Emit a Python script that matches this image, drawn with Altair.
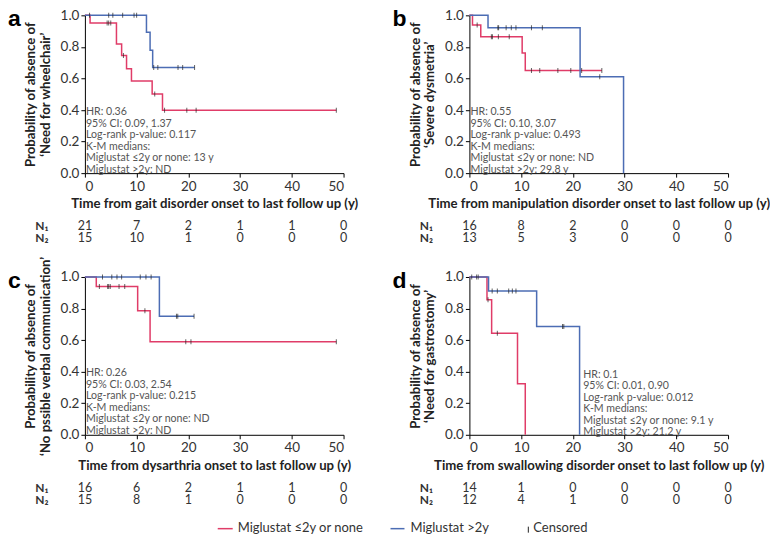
import altair as alt
import pandas as pd

RED = "#E03C68"
BLUE = "#4C6DB4"
TICKC = "#222222"
G1 = "Miglustat ≤2y or none"
G2 = "Miglustat >2y"
FONT = "Lato"

x_ticks = [0, 10, 20, 30, 40, 50]
y_ticks = [0.0, 0.2, 0.4, 0.6, 0.8, 1.0]

# ---- Panel a ----
a_red_t = [0, 1.0, 6.1, 7.1, 8.05, 9.0, 13.0, 15.0, 48.6]
a_red_s = [1.0, 0.952, 0.819, 0.746, 0.662, 0.584, 0.501, 0.398, 0.398]
a_red_c = [4.3, 4.6, 5.0, 7.45, 13.5, 15.4, 19.7, 21.5, 48.6]
a_blue_t = [0, 11.9, 12.6, 13.1, 21.2]
a_blue_s = [1.0, 0.893, 0.779, 0.670, 0.670]
a_blue_c = [0.9, 4.6, 5.4, 7.3, 9.5, 10.0, 13.3, 14.1, 18.0, 18.9, 21.2]
a_n1 = [21, 7, 2, 1, 1, 0]
a_n2 = [15, 10, 1, 0, 0, 0]
a_notes = ["HR: 0.36", "95% CI: 0.09, 1.37", "Log-rank p-value: 0.117", "K-M medians:",
           "Miglustat ≤2y or none: 13 y", "Miglustat >2y: ND"]

# ---- Panel b ----
b_red_t = [0, 0.6, 2.2, 10.2, 10.8, 25.6]
b_red_s = [1.0, 0.938, 0.865, 0.762, 0.650, 0.650]
b_red_c = [1.5, 4.25, 4.45, 5.6, 7.7, 12.0, 13.6, 17.1, 19.6, 21.7, 25.6]
b_blue_t = [0, 3.6, 21.4, 29.8]
b_blue_s = [1.0, 0.921, 0.611, 0.0]
b_blue_c = [5.5, 5.65, 7.1, 8.1, 9.0, 12.0, 14.1, 25.2]
b_n1 = [16, 8, 2, 0, 0, 0]
b_n2 = [13, 5, 3, 0, 0, 0]
b_notes = ["HR: 0.55", "95% CI: 0.10, 3.07", "Log-rank p-value: 0.493", "K-M medians:",
           "Miglustat ≤2y or none: ND", "Miglustat >2y: 29.8 y"]

# ---- Panel c ----
c_red_t = [0, 2.2, 10.2, 12.6, 48.6]
c_red_s = [1.0, 0.939, 0.786, 0.590, 0.590]
c_red_c = [2.8, 4.4, 4.6, 4.9, 6.6, 7.7, 11.6, 19.5, 20.5, 48.6]
c_blue_t = [0, 14.4, 21.1]
c_blue_s = [1.0, 0.751, 0.751]
c_blue_c = [3.4, 5.2, 6.2, 7.1, 10.7, 11.8, 12.8, 17.7, 17.95, 21.1]
c_n1 = [16, 6, 2, 1, 1, 0]
c_n2 = [15, 8, 1, 0, 0, 0]
c_notes = ["HR: 0.26", "95% CI: 0.03, 2.54", "Log-rank p-value: 0.215", "K-M medians:",
           "Miglustat ≤2y or none: ND", "Miglustat >2y: ND"]

# ---- Panel d ----
d_red_t = [0, 3.4, 4.3, 9.3, 10.8]
d_red_s = [1.0, 0.856, 0.643, 0.324, 0.0]
d_red_c = [3.6, 5.4]
d_blue_t = [0, 3.7, 13.0, 21.3]
d_blue_s = [1.0, 0.911, 0.687, 0.0]
d_blue_c = [0.45, 1.4, 1.7, 4.4, 5.4, 7.6, 8.3, 9.0, 18.0, 18.25]
d_n1 = [14, 1, 0, 0, 0, 0]
d_n2 = [12, 4, 1, 0, 0, 0]
d_notes = ["HR: 0.1", "95% CI: 0.01, 0.90", "Log-rank p-value: 0.012", "K-M medians:",
           "Miglustat ≤2y or none: 9.1 y", "Miglustat >2y: 21.2 y"]

legend_labels = [G1, G2, "Censored"]

W, H = 259, 158
NOTE_STEP = 11.5 / H  # line spacing of the statistics block, in axis units


def step_value(ts, ss, t):
    v = ss[0]
    for ti, si in zip(ts, ss):
        if ti <= t:
            v = si
    return v


def txt(df, **kw):
    return alt.Chart(df).mark_text(**kw)


def panel(letter, rt, rs, rc, bt, bs, bc, n1, n2, ytitle2, xtitle, notes, note_x, note_y, legend=False):
    xs = alt.Scale(domain=[0, 50])
    ys = alt.Scale(domain=[0, 1])
    xax = alt.Axis(values=x_ticks, title=xtitle, labelOverlap=False)
    yax = alt.Axis(values=y_ticks, format=".1f", title=["Probability of absence of", ytitle2],
                   labelOverlap=False, tickCount=6)

    red_df = pd.DataFrame({"t": rt, "s": rs})
    blue_df = pd.DataFrame({"t": bt, "s": bs})
    cens_df = pd.DataFrame({
        "t": rc + bc,
        "s": [step_value(rt, rs, t) for t in rc] + [step_value(bt, bs, t) for t in bc],
    })

    X = alt.X("t:Q", scale=xs, axis=xax)
    Y = alt.Y("s:Q", scale=ys, axis=yax)

    red = alt.Chart(red_df).mark_line(interpolate="step-after", color=RED, strokeWidth=1.5).encode(x=X, y=Y)
    blue = alt.Chart(blue_df).mark_line(interpolate="step-after", color=BLUE, strokeWidth=1.5).encode(x=X, y=Y)
    cens = alt.Chart(cens_df).mark_tick(orient="vertical", size=5, thickness=1, color=TICKC).encode(x=X, y=Y)

    note_df = pd.DataFrame({
        "t": [note_x] * len(notes),
        "s": [note_y - i * NOTE_STEP for i in range(len(notes))],
        "txt": notes,
    })
    note = txt(note_df, align="left", baseline="middle", fontSize=10.6,
               color="#555555", font=FONT).encode(x=X, y=Y, text="txt:N")

    let = txt(pd.DataFrame({"l": [letter]}),
              align="left", baseline="alphabetic", fontSize=23, fontWeight="bold",
              font="Liberation Sans", color="black").encode(x=alt.value(-77), y=alt.value(11), text="l:N")

    risk1 = txt(pd.DataFrame({"t": x_ticks, "n": n1}), fontSize=12.5, font=FONT, color="#333333",
                baseline="middle").encode(x=X, y=alt.value(H + 53), text="n:Q")
    risk2 = txt(pd.DataFrame({"t": x_ticks, "n": n2}), fontSize=12.5, font=FONT, color="#333333",
                baseline="middle").encode(x=X, y=alt.value(H + 65), text="n:Q")
    nl1 = txt(pd.DataFrame({"l": ["N₁"]}), fontSize=12, font=FONT, fontWeight="bold", color="#333333",
              baseline="middle").encode(x=alt.value(-43), y=alt.value(H + 53), text="l:N")
    nl2 = txt(pd.DataFrame({"l": ["N₂"]}), fontSize=12, font=FONT, fontWeight="bold", color="#333333",
              baseline="middle").encode(x=alt.value(-43), y=alt.value(H + 65), text="l:N")

    layers = [red, blue, cens, note, let, risk1, risk2, nl1, nl2]

    if legend:
        ly = H + 93
        leg_df = pd.DataFrame({"lab": legend_labels, "px": [153, 326, 449]})
        leg_text = txt(leg_df, align="left", baseline="middle", fontSize=13, font=FONT,
                       color="#333333").encode(x=alt.X("px:Q", scale=None), y=alt.value(ly), text="lab:N")
        r1 = alt.Chart(pd.DataFrame({"a": [0]})).mark_rule(color=RED, strokeWidth=1.5).encode(
            x=alt.value(133), x2=alt.value(148), y=alt.value(ly + 1))
        r2 = alt.Chart(pd.DataFrame({"a": [0]})).mark_rule(color=BLUE, strokeWidth=1.5).encode(
            x=alt.value(306), x2=alt.value(320), y=alt.value(ly + 1))
        r3 = alt.Chart(pd.DataFrame({"a": [0]})).mark_rule(color=TICKC, strokeWidth=1).encode(
            x=alt.value(444), y=alt.value(ly - 1), y2=alt.value(ly + 5))
        layers += [leg_text, r1, r2, r3]

    return alt.layer(*layers).properties(width=W, height=H)


pa = panel("a", a_red_t, a_red_s, a_red_c, a_blue_t, a_blue_s, a_blue_c, a_n1, a_n2,
           "‘Need for wheelchair’", "Time from gait disorder onset to last follow up (y)", a_notes, 0.2, 0.385)
pb = panel("b", b_red_t, b_red_s, b_red_c, b_blue_t, b_blue_s, b_blue_c, b_n1, b_n2,
           "‘Severe dysmetria’", "Time from manipulation disorder onset to last follow up (y)", b_notes, 0.2, 0.385)
pc = panel("c", c_red_t, c_red_s, c_red_c, c_blue_t, c_blue_s, c_blue_c, c_n1, c_n2,
           "‘No pssible verbal communication’", "Time from dysarthria onset to last follow up (y)", c_notes, 0.2, 0.39,
           legend=True)
pd_ = panel("d", d_red_t, d_red_s, d_red_c, d_blue_t, d_blue_s, d_blue_c, d_n1, d_n2,
            "‘Need for gastrostomy’", "Time from swallowing disorder onset to last follow up (y)", d_notes, 22.0, 0.38)

chart = alt.concat(pa, pb, pc, pd_, columns=2, spacing={"row": 104, "column": 126}, bounds="flush").properties(
    padding=0
).configure_view(stroke=None).configure_axis(
    grid=False, domainColor="black", tickColor="black", tickSize=4, labelFontSize=13.5,
    labelColor="#333333", labelFont=FONT, titleFont=FONT, titleFontSize=13.2, titleFontWeight="bold",
    titleColor="#222222", labelPadding=2, labelOverlap=False
).configure_axisX(titlePadding=5).configure_axisY(titlePadding=8, titleLineHeight=14.5, labelOverlap=False)

chart.save("out.html", embed_options={"renderer": "svg", "actions": False})
